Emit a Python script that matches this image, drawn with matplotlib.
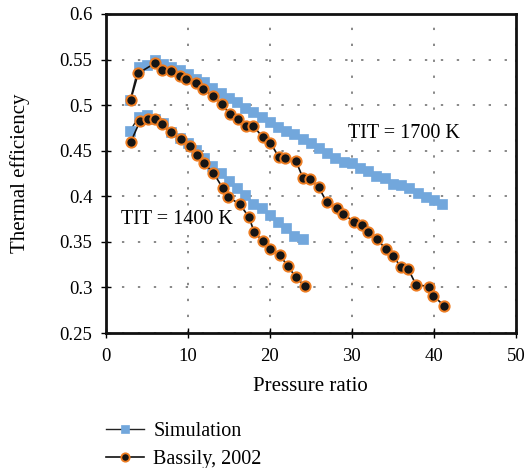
import matplotlib
matplotlib.use("Agg")
import matplotlib.pyplot as plt
from matplotlib.lines import Line2D

plt.rcParams['font.family'] = ['Liberation Serif', 'DejaVu Serif']

# Simulation, TIT = 1700 K
sim1700_x = list(range(3, 42))
sim1700_y = [0.506, 0.542, 0.544, 0.550, 0.545, 0.542, 0.539, 0.534, 0.529, 0.525,
             0.519, 0.513, 0.508, 0.503, 0.497, 0.492, 0.487, 0.481, 0.476, 0.472,
             0.468, 0.463, 0.458, 0.453, 0.447, 0.442, 0.438, 0.436, 0.431, 0.428,
             0.422, 0.420, 0.414, 0.412, 0.409, 0.404, 0.399, 0.396, 0.392]

# Simulation, TIT = 1400 K
sim1400_x = list(range(3, 25))
sim1400_y = [0.472, 0.487, 0.489, 0.485, 0.480, 0.471, 0.464, 0.458, 0.451, 0.442,
             0.433, 0.426, 0.417, 0.409, 0.401, 0.392, 0.387, 0.380, 0.372, 0.365,
             0.356, 0.353]

# Bassily, 2002, TIT = 1700 K
bas1700_x = [3.05, 3.97, 6.01, 6.82, 7.92, 9.02, 9.79, 11.0, 11.8, 13.11, 14.17, 15.11,
             16.18, 17.13, 17.99, 19.13, 20.06, 21.09, 21.86, 23.19, 24.04, 24.89,
             25.96, 26.93, 28.15, 28.88, 30.26, 31.2, 32.0, 33.1, 34.12, 35.05, 35.95,
             36.88, 37.81, 39.4, 39.92, 41.22]
bas1700_y = [0.506, 0.535, 0.546, 0.539, 0.537, 0.532, 0.5285, 0.524, 0.518, 0.510,
             0.501, 0.490, 0.4845, 0.477, 0.477, 0.465, 0.459, 0.443, 0.442, 0.4385,
             0.420, 0.419, 0.410, 0.3935, 0.387, 0.381, 0.372, 0.368, 0.3605, 0.353,
             0.342, 0.335, 0.322, 0.320, 0.303, 0.301, 0.291, 0.280]

# Bassily, 2002, TIT = 1400 K
bas1400_x = [3.08, 4.18, 5.19, 6.01, 6.82, 7.92, 9.14, 10.27, 11.09, 11.98, 13.11,
             14.26, 14.9, 16.37, 17.47, 18.08, 19.13, 20.02, 21.18, 22.25, 23.17, 24.24]
bas1400_y = [0.460, 0.4826, 0.485, 0.485, 0.479, 0.470, 0.4625, 0.4555, 0.445, 0.436,
             0.426, 0.409, 0.3995, 0.391, 0.377, 0.361, 0.351, 0.342, 0.3355, 0.323,
             0.311, 0.302]

xticks = [0, 10, 20, 30, 40, 50]
yticks = [0.25, 0.3, 0.35, 0.4, 0.45, 0.5, 0.55, 0.6]
ytick_labels = ["0.25", "0.3", "0.35", "0.4", "0.45", "0.5", "0.55", "0.6"]

blue = "#72a7dc"
orange = "#ee7d22"

fig = plt.figure(figsize=(5.25, 4.68), dpi=100)
ax = fig.add_axes([105.7 / 525, 1 - 333 / 468, (516 - 105.7) / 525, (333 - 14) / 468])

sim_kw = dict(color="#222222", lw=1.0, marker="s", markersize=6.6,
              markerfacecolor=blue, markeredgecolor=blue, markeredgewidth=0.5, zorder=3)
bas_kw = dict(color="#111111", lw=1.2, marker="o", markersize=7.4,
              markerfacecolor="#151515", markeredgecolor=orange, markeredgewidth=1.4, zorder=4)

ax.plot(sim1700_x, sim1700_y, **sim_kw)
ax.plot(sim1400_x, sim1400_y, **sim_kw)
ax.plot(bas1700_x, bas1700_y, **bas_kw)
ax.plot(bas1400_x, bas1400_y, **bas_kw)

ax.set_xlim(0, 50)
ax.set_ylim(0.25, 0.6)
ax.set_xticks(xticks)
ax.set_yticks(yticks)
ax.set_yticklabels(ytick_labels)
ax.tick_params(direction="inout", length=7, width=1.0, labelsize=13.5, pad=6,
               top=False, right=False)
ax.tick_params(axis="x", pad=7)

for s in ax.spines.values():
    s.set_linewidth(2.0)
    s.set_color("#111111")

ax.grid(True, color="#888888", linestyle=(0, (1.2, 7)), linewidth=1.4)
ax.set_axisbelow(True)

ax.set_xlabel("Pressure ratio", fontsize=15, labelpad=9)
ax.set_ylabel("Thermal efficiency", fontsize=15, labelpad=21)

ax.text(29.5, 0.4694, "TIT = 1700 K", fontsize=14.5, va="center", ha="left", zorder=5)
ax.text(1.9, 0.374, "TIT = 1400 K", fontsize=14.5, va="center", ha="left", zorder=5)

leg_sim = dict(sim_kw, markersize=5.5)
leg_bas = dict(bas_kw, markersize=6.0, markeredgewidth=1.3)
handles = [Line2D([], [], **leg_sim), Line2D([], [], **leg_bas)]
fig.legend(handles, ["Simulation", "Bassily, 2002"], loc="upper left",
           bbox_to_anchor=(88 / 525, 1 - 404 / 468), frameon=False, fontsize=14.5,
           handlelength=1.9, labelspacing=0.45, handletextpad=0.45)

fig.savefig("out.png", dpi=100)
